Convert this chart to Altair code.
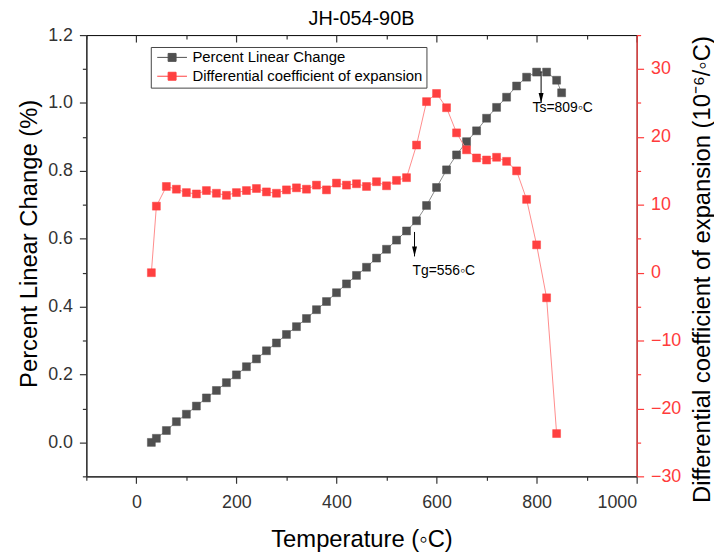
import altair as alt
import pandas as pd

TITLE = "JH-054-90B"
SERIES = ["Percent Linear Change", "Differential coefficient of expansion"]
COLORS = ["#505050", "#ff4040"]
LINE_COLORS = ["#8a8a8a", "#ff8c8c"]

# Percent Linear Change (left axis)
temp_plc = [30, 40, 60, 80, 100, 120, 140, 160, 180, 200, 220, 240, 260, 280, 300,
            320, 340, 360, 380, 400, 420, 440, 460, 480, 500, 520, 540, 560, 580, 600,
            620, 640, 660, 680, 700, 720, 740, 760, 780, 800, 820, 840, 850]
plc = [0.0, 0.012, 0.035, 0.061, 0.083, 0.107, 0.131, 0.153, 0.176, 0.199, 0.223,
       0.246, 0.270, 0.293, 0.318, 0.341, 0.365, 0.391, 0.415, 0.441, 0.467, 0.492,
       0.516, 0.543, 0.569, 0.596, 0.623, 0.653, 0.698, 0.751, 0.803, 0.847, 0.886,
       0.918, 0.955, 0.987, 1.017, 1.050, 1.076, 1.091, 1.091, 1.067, 1.030]

# Differential coefficient of expansion (right axis)
temp_dce = [30, 40, 60, 80, 100, 120, 140, 160, 180, 200, 220, 240, 260, 280, 300,
            320, 340, 360, 380, 400, 420, 440, 460, 480, 500, 520, 540, 560, 580, 600,
            620, 640, 660, 680, 700, 720, 740, 760, 780, 800, 820, 840]
dce = [0.0, 9.8, 12.7, 12.3, 11.8, 11.6, 12.1, 11.7, 11.4, 11.8, 12.1, 12.4, 11.9,
       11.7, 12.2, 12.5, 12.3, 12.9, 12.2, 13.2, 12.9, 13.1, 12.7, 13.4, 12.8, 13.6,
       14.0, 18.8, 25.2, 26.4, 24.3, 20.6, 18.1, 16.9, 16.6, 17.0, 16.4, 15.0, 10.8,
       4.1, -3.7, -23.7]

# annotations
ann_T = [556, 809]
ann_top = [0.62, 1.093]
ann_tip = [0.548, 1.0]
ann_text = ["Tg=556\u25e6C", "Ts=809\u25e6C"]
ann_text_T = [552, 792]
ann_text_v = [0.505, 0.985]

# axis tick values
x_ticks = [-100, 0, 100, 200, 300, 400, 500, 600, 700, 800, 900, 1000]
yl_ticks = [-0.1, 0.0, 0.1, 0.2, 0.3, 0.4, 0.5, 0.6, 0.7, 0.8, 0.9, 1.0, 1.1, 1.2]
yr_ticks = [-30, -25, -20, -15, -10, -5, 0, 5, 10, 15, 20, 25, 30, 35]

FONT = "Liberation Sans"
RED = "#ff3b3b"

df_plc = pd.DataFrame({"T": temp_plc, "v": plc, "series": SERIES[0]})
df_dce = pd.DataFrame({"T": temp_dce, "v": dce, "series": SERIES[1]})
df_arrow = pd.DataFrame({"T": ann_T, "v": ann_top, "v2": ann_tip})
df_tip = pd.DataFrame({"T": ann_T, "v": ann_tip})
df_text = pd.DataFrame({"T": ann_text_T, "v": ann_text_v, "label": ann_text})

xscale = alt.Scale(domain=[-100, 1000], nice=False, zero=False)
yl_scale = alt.Scale(domain=[-0.1, 1.2], nice=False, zero=False)
yr_scale = alt.Scale(domain=[-30, 35], nice=False, zero=False)
series_scale = alt.Scale(domain=SERIES, range=COLORS)

x_bottom = alt.Axis(
    values=x_ticks, orient="bottom", grid=False, format="d",
    tickSize=alt.ExprRef("datum.value % 200 === 0 ? 7 : 4"),
    labelExpr="datum.value % 200 === 0 ? datum.label : ''",
    title="Temperature (\u25e6C)", titleFontSize=24,
    titleX=277.5, titleY=64, titleBaseline="middle", titleAlign="center",
    labelFontSize=18, labelPadding=10,
)
x_top = alt.Axis(
    values=x_ticks, orient="top", grid=False, labels=False, domain=False,
    tickSize=alt.ExprRef("datum.value % 200 === 0 ? -7 : -4"), title=None,
)
yl_axis = alt.Axis(
    values=yl_ticks, orient="left", grid=False,
    tickSize=alt.ExprRef("abs(round(datum.value * 10)) % 2 === 0 ? 7 : 4"),
    labelExpr="abs(round(datum.value * 10)) % 2 === 0 ? format(datum.value, '.1f') : ''",
    title="Percent Linear Change (%)", titleFontSize=24,
    titleX=-57, titleY=210, titleAngle=270, titleBaseline="middle", titleAlign="center",
    labelFontSize=18, labelPadding=7,
)
yr_axis = alt.Axis(
    values=yr_ticks, orient="right", grid=False,
    tickSize=alt.ExprRef("datum.value % 10 === 0 ? 7 : 4"),
    labelExpr="datum.value % 10 === 0 ? datum.label : ''",
    domainColor=RED, tickColor=RED, labelColor=RED,
    title="Differential coefficient of expansion (10\u207b\u2076/\u25e6C)",
    titleFontSize=24, titleX=66, titleY=236, titleAngle=270,
    titleBaseline="middle", titleAlign="center",
    labelFontSize=18, labelPadding=7,
)

legend = alt.Legend(
    title=None, orient="none", legendX=65, legendY=12,
    symbolType="M-3.75,0H3.75M-1,-1H1V1H-1Z", symbolSize=64, symbolStrokeWidth=1,
    labelFont=FONT, labelFontSize=15, labelColor="black", labelLimit=400,
    strokeColor="#444444", fillColor="white", padding=3, rowPadding=3,
    symbolOffset=11, labelOffset=13,
)

yL = alt.Y("v:Q", scale=yl_scale, axis=yl_axis)

plc_line = alt.Chart(df_plc).mark_line(color=LINE_COLORS[0], strokeWidth=1).encode(
    x=alt.X("T:Q", scale=xscale, axis=x_top), y=yL)
plc_pts = alt.Chart(df_plc).mark_square(size=64, filled=True, strokeWidth=0.5, opacity=1).encode(
    x=alt.X("T:Q", scale=xscale, axis=x_bottom), y=yL,
    fill=alt.Fill("series:N", scale=series_scale, legend=legend),
    stroke=alt.Stroke("series:N", scale=series_scale, legend=legend),
)
arrow = alt.Chart(df_arrow).mark_rule(color="black", strokeWidth=1).encode(
    x=alt.X("T:Q", scale=xscale, axis=None), y=yL, y2="v2:Q")
tip = alt.Chart(df_tip).mark_point(shape="M-0.5,-2L0.5,-2L0,0Z", size=100, filled=True,
                                   color="black", opacity=1).encode(
    x=alt.X("T:Q", scale=xscale, axis=None), y=yL)
texts = alt.Chart(df_text).mark_text(align="left", baseline="middle", font=FONT,
                                     fontSize=14, color="black").encode(
    x=alt.X("T:Q", scale=xscale, axis=None), y=yL, text="label:N")

left = alt.layer(plc_line, plc_pts, arrow, tip, texts).resolve_axis(x="independent")

yR = alt.Y("v:Q", scale=yr_scale, axis=yr_axis)
dce_line = alt.Chart(df_dce).mark_line(color=LINE_COLORS[1], strokeWidth=1).encode(
    x=alt.X("T:Q", scale=xscale, axis=None), y=yR)
dce_pts = alt.Chart(df_dce).mark_square(size=64, filled=True, strokeWidth=0.5, opacity=1).encode(
    x=alt.X("T:Q", scale=xscale, axis=None), y=yR,
    fill=alt.Fill("series:N", scale=series_scale, legend=legend),
    stroke=alt.Stroke("series:N", scale=series_scale, legend=legend),
)
right = alt.layer(dce_line, dce_pts)

chart = alt.layer(left, right).resolve_scale(y="independent").properties(
    width=555, height=445,
    title=alt.TitleParams(TITLE, fontSize=20, font=FONT, fontWeight="normal",
                          color="black", offset=-3),
    autosize=alt.AutoSizeParams(type="none"),
    padding={"left": 79, "top": 25, "right": 78, "bottom": 76},
).configure_view(stroke="black", strokeWidth=1).configure_axis(
    labelFont=FONT, titleFont=FONT, labelColor="#333333", titleColor="black",
    titleFontWeight="normal", domainColor="#333333", tickColor="#333333",
    domainWidth=1.2, tickWidth=1.2,
)

chart.save("out.html", embed_options={"renderer": "svg", "actions": False})
